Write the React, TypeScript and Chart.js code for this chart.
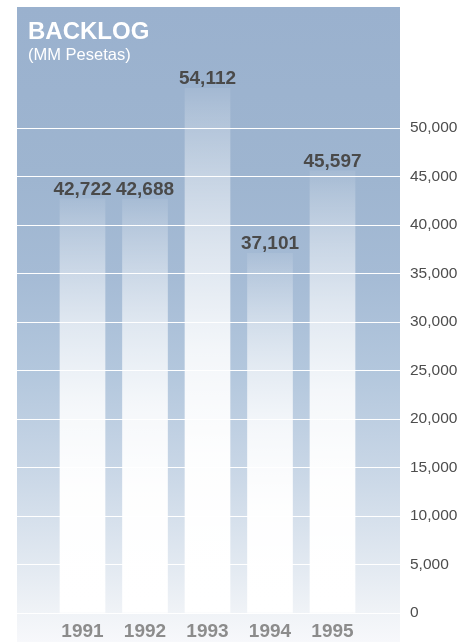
import React, { useEffect, useRef } from 'react';
import { Chart, registerables } from 'chart.js';

Chart.register(...registerables);

const years = [1991, 1992, 1993, 1994, 1995];
const backlog = [42722, 42688, 54112, 37101, 45597];
const yTicks = [0, 5000, 10000, 15000, 20000, 25000, 30000, 35000, 40000, 45000, 50000];
const yAxisMax = 62500;
const xAxisMin = 1989.952;
const xAxisMax = 1996.08;

const FONT = '"Liberation Sans", Arial, Helvetica, sans-serif';

const fmt = (v: number) => String(Math.round(v)).replace(/\B(?=(\d{3})+(?!\d))/g, ',');

export default function App() {
  const ref = useRef<HTMLCanvasElement>(null);

  useEffect(() => {
    const canvas = ref.current!;

    const panelBg = {
      id: 'panelBg',
      beforeDraw(chart: any) {
        const { ctx, chartArea: a, height } = chart;
        const top = a.top;
        const span = height - top;
        const g = ctx.createLinearGradient(0, top, 0, height);
        const stop = (y: number, c: string) => g.addColorStop(Math.min(1, Math.max(0, (y - top) / span)), c);
        stop(top, 'rgb(154,177,206)');
        stop(178, 'rgb(158,181,208)');
        stop(275, 'rgb(165,187,213)');
        stop(372, 'rgb(179,199,221)');
        stop(468, 'rgb(200,214,230)');
        stop(565, 'rgb(226,233,241)');
        stop(613, 'rgb(240,243,247)');
        stop(height, 'rgb(247,248,251)');
        ctx.save();
        ctx.fillStyle = g;
        ctx.fillRect(a.left, top, a.right - a.left, span);
        ctx.restore();
      },
    };

    const valueLabels = {
      id: 'valueLabels',
      afterDatasetsDraw(chart: any) {
        const { ctx } = chart;
        const meta = chart.getDatasetMeta(0);
        ctx.save();
        ctx.font = `bold 19px ${FONT}`;
        ctx.fillStyle = '#4a4a4a';
        ctx.textAlign = 'center';
        ctx.textBaseline = 'alphabetic';
        meta.data.forEach((el: any, i: number) => {
          ctx.fillText(fmt(backlog[i]), el.x, el.y - 4);
        });
        ctx.restore();
      },
    };

    const barFill = (context: any) => {
      const chart = context.chart;
      const ys = chart.scales && chart.scales.y;
      if (!ys || context.dataIndex === undefined) return 'rgba(255,255,255,0.8)';
      const v = backlog[context.dataIndex];
      const yTop = ys.getPixelForValue(v);
      const yBot = ys.getPixelForValue(0);
      if (!isFinite(yTop) || !isFinite(yBot) || yBot <= yTop) return 'rgba(255,255,255,0.8)';
      const g = chart.ctx.createLinearGradient(0, yTop, 0, yBot);
      g.addColorStop(0, 'rgba(255,255,255,0.08)');
      g.addColorStop(0.05, 'rgba(255,255,255,0.2)');
      g.addColorStop(0.17, 'rgba(255,255,255,0.42)');
      g.addColorStop(0.3, 'rgba(255,255,255,0.62)');
      g.addColorStop(0.5, 'rgba(255,255,255,0.85)');
      g.addColorStop(0.7, 'rgba(255,255,255,0.97)');
      g.addColorStop(1, 'rgba(255,255,255,1)');
      return g;
    };

    const chart = new Chart(canvas, {
      type: 'bar',
      data: {
        datasets: [
          {
            label: 'Backlog',
            data: years.map((x, i) => ({ x, y: backlog[i] })),
            backgroundColor: barFill,
            borderWidth: 0,
            barThickness: 45,
          },
        ],
      },
      options: {
        animation: false,
        responsive: false,
        devicePixelRatio: 1,
        layout: { padding: { top: 7, left: 17, right: 0, bottom: 0 } },
        plugins: { legend: { display: false }, tooltip: { enabled: false }, title: { display: false } },
        scales: {
          x: {
            type: 'linear',
            min: xAxisMin,
            max: xAxisMax,
            offset: false,
            afterBuildTicks: (s: any) => {
              s.ticks = years.map((v) => ({ value: v }));
            },
            afterFit: (s: any) => {
              s.height = 29;
              s.paddingLeft = 0;
              s.paddingRight = 0;
            },
            ticks: {
              callback: (v: any) => String(v),
              color: '#8c8c8c',
              font: { family: FONT, size: 19, weight: 'bold' },
              padding: 7,
              maxRotation: 0,
              autoSkip: false,
            },
            grid: { display: false, drawTicks: false },
            border: { display: false },
          },
          y: {
            position: 'right',
            min: 0,
            max: yAxisMax,
            afterBuildTicks: (s: any) => {
              s.ticks = yTicks.map((v) => ({ value: v }));
            },
            afterFit: (s: any) => {
              s.width = 63;
              s.paddingTop = 0;
              s.paddingBottom = 0;
            },
            ticks: {
              callback: (v: any) => fmt(Number(v)),
              color: '#4d4d4d',
              font: { family: FONT, size: 15.5 },
              padding: 10,
            },
            grid: { color: '#ffffff', lineWidth: 1, drawTicks: false },
            border: { display: false },
          },
        },
      } as any,
      plugins: [panelBg, valueLabels],
    });

    return () => chart.destroy();
  }, []);

  return (
    <div style={{ position: 'absolute', left: 0, top: 0, width: 463, height: 642, overflow: 'hidden', background: '#ffffff' }}>
      <canvas ref={ref} width={463} height={642} style={{ display: 'block', width: 463, height: 642 }} />
      <div
        style={{
          position: 'absolute',
          left: 28,
          top: 19,
          fontFamily: FONT,
          fontWeight: 'bold',
          fontSize: 24,
          lineHeight: '24px',
          color: '#ffffff',
          whiteSpace: 'nowrap',
        }}
      >
        BACKLOG
      </div>
      <div
        style={{
          position: 'absolute',
          left: 28,
          top: 46,
          fontFamily: FONT,
          fontSize: 16.5,
          lineHeight: '16px',
          color: '#ffffff',
          whiteSpace: 'nowrap',
        }}
      >
        (MM Pesetas)
      </div>
    </div>
  );
}
